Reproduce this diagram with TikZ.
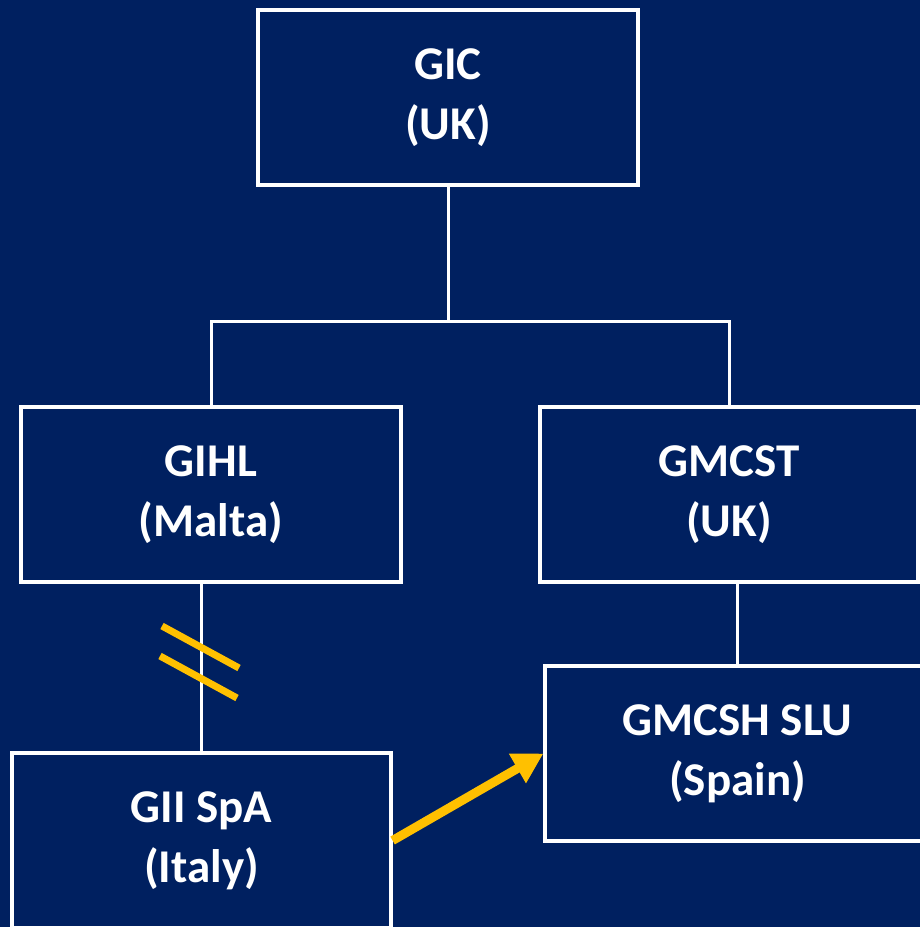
\documentclass[tikz,border=0pt]{standalone}
\usepackage{fontspec}
\setmainfont{Carlito}
\usetikzlibrary{arrows.meta}
\definecolor{navy}{HTML}{002060}
\definecolor{gold}{HTML}{FFC000}
\begin{document}
\begin{tikzpicture}[x=1pt,y=-1pt,
  orgbox/.style={draw=white, line width=3.2pt, fill=navy, text=white, align=center,
    font=\fontsize{47}{60}\selectfont\bfseries, inner sep=0pt},
  link/.style={draw=white, line width=3pt},
  mark2/.style={draw=gold, line width=7pt},
  trans/.style={draw=gold, line width=9pt, -{Triangle[length=30pt,width=32pt]}}]
\fill[navy] (0,0) rectangle (920,927);
\useasboundingbox (0,0) rectangle (920,927);
\node[orgbox, minimum width=380pt, minimum height=175pt] (gic) at (448,97.5) {GIC\\(UK)};
\node[orgbox, minimum width=380pt, minimum height=175pt] (gihl) at (211,494.5) {GIHL\\(Malta)};
\node[orgbox, minimum width=378pt, minimum height=175pt] (gmcst) at (729,494.5) {GMCST\\(UK)};
\node[orgbox, minimum width=385pt, minimum height=175pt] (gmcsh) at (737.5,753.5) {GMCSH SLU\\(Spain)};
\node[orgbox, minimum width=379pt, minimum height=175pt] (gii) at (201.5,840.5) {GII SpA\\(Italy)};
\coordinate (bus) at (448,321);
\draw[link] (gic.south) -- (bus);
\draw[link] (gihl.north) |- (bus) -| (gmcst.north);
\draw[link] (gihl.south -| gii.north) -- (gii.north);
\draw[link] (gmcst.south -| gmcsh.north) -- (gmcsh.north);
\draw[mark2] (162,626) -- (239,668);
\draw[mark2] (160,656) -- (237,698);
\draw[trans] (gii.east) -- (gmcsh.west);
\end{tikzpicture}
\end{document}
